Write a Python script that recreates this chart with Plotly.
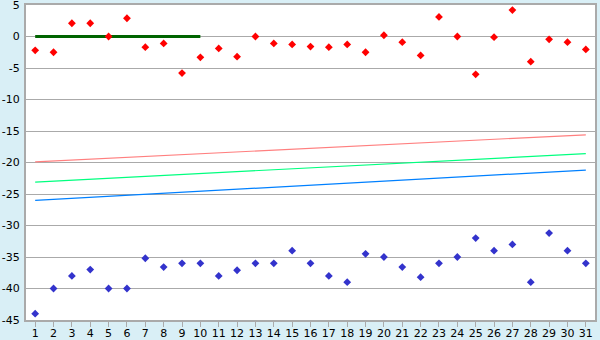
import plotly.graph_objects as go

days = list(range(1, 32))
red_vals = [-2.2, -2.5, 2.1, 2.1, 0.0, 2.9, -1.7, -1.1, -5.8, -3.3,
            -1.9, -3.2, 0.0, -1.1, -1.25, -1.6, -1.7, -1.25, -2.5, 0.2,
            -0.9, -3.0, 3.1, 0.0, -6.0, -0.1, 4.2, -4.0, -0.45, -0.9, -2.05]
blue_vals = [-44, -40, -38, -37, -40, -40, -35.2, -36.6, -36, -36,
             -38, -37.1, -36, -36, -34, -36, -38, -39, -34.5, -35,
             -36.6, -38.2, -36, -35, -32, -34, -33, -39, -31.2, -34, -36]
zero_x = [1, 10]
zero_y = [0, 0]
trend_x = [1, 31]
trend_red = [-19.9, -15.6]
trend_green = [-23.1, -18.6]
trend_blue = [-26.0, -21.2]
y_ticks = list(range(-45, 6, 5))
y_labels = [str(v) for v in y_ticks]

fig = go.Figure()
fig.add_trace(go.Scatter(x=trend_x, y=trend_red, mode="lines",
                         line=dict(color="#ff7f7f", width=1.2)))
fig.add_trace(go.Scatter(x=trend_x, y=trend_green, mode="lines",
                         line=dict(color="#00ff7f", width=1.2)))
fig.add_trace(go.Scatter(x=trend_x, y=trend_blue, mode="lines",
                         line=dict(color="#0080ff", width=1.2)))
fig.add_trace(go.Scatter(x=zero_x, y=zero_y, mode="lines",
                         line=dict(color="#006400", width=3)))
fig.add_trace(go.Scatter(x=days, y=red_vals, mode="markers",
                         marker=dict(symbol="diamond", size=6, color="#ff0000")))
fig.add_trace(go.Scatter(x=days, y=blue_vals, mode="markers",
                         marker=dict(symbol="diamond", size=6, color="#3333cc")))

fig.update_layout(
    width=600, height=340,
    margin=dict(l=26, r=5, t=5, b=20, autoexpand=False),
    paper_bgcolor="#d9eff6",
    plot_bgcolor="#ffffff",
    showlegend=False,
    font=dict(family="DejaVu Sans", size=11, color="#000000"),
)
fig.update_xaxes(range=[0.5, 31.5], tickvals=days, ticktext=[str(d) for d in days],
                 showgrid=False, showline=True, linecolor="#aaaaaa", linewidth=2,
                 mirror=True, ticks="outside", ticklen=5, tickcolor="#aaaaaa",
                 zeroline=False, tickfont=dict(size=11), automargin=False,
                 ticklabelstandoff=-3, ticklabeloverflow="allow")
fig.update_yaxes(range=[-45, 5], tickvals=y_ticks, ticktext=y_labels,
                 showgrid=True, gridcolor="#aaaaaa",
                 gridwidth=1, showline=True, linecolor="#aaaaaa", linewidth=2,
                 mirror=True, ticks="", zeroline=False, tickfont=dict(size=11),
                 ticklabelstandoff=2, automargin=False, ticklabeloverflow="allow")

fig.write_html("out.html")
